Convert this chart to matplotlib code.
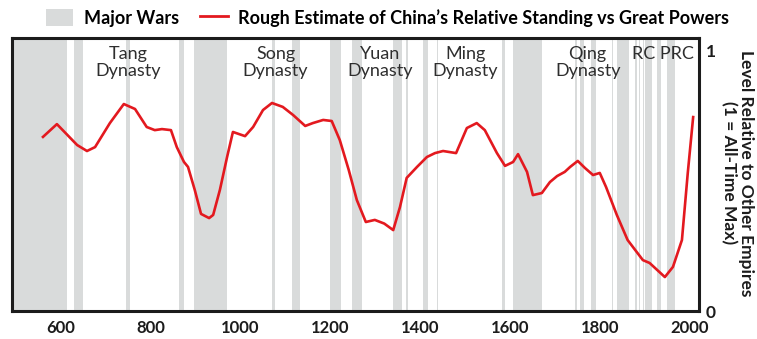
import matplotlib
matplotlib.use("Agg")
import matplotlib.pyplot as plt
from matplotlib.patches import Patch
from matplotlib.lines import Line2D

# ---- data ----
years = [560, 591, 636, 658, 676, 709, 740, 765, 791, 809, 825, 845, 858, 874, 883,
         898, 912, 930, 939, 954, 970, 983, 1010, 1028, 1050, 1070, 1094, 1117, 1144,
         1161, 1184, 1203, 1221, 1241, 1259, 1279, 1299, 1320, 1340, 1355, 1370, 1393,
         1415, 1433, 1451, 1480, 1504, 1526, 1544, 1571, 1589, 1607, 1618, 1638, 1651,
         1671, 1689, 1705, 1722, 1734, 1751, 1767, 1785, 1800, 1814, 1838, 1862, 1896,
         1911, 1945, 1963, 1983, 1996, 2008]
standing = [0.667, 0.716, 0.636, 0.613, 0.628, 0.720, 0.793, 0.774, 0.705, 0.693, 0.697,
            0.693, 0.628, 0.571, 0.552, 0.464, 0.372, 0.356, 0.368, 0.464, 0.590, 0.686,
            0.670, 0.705, 0.770, 0.797, 0.782, 0.751, 0.709, 0.720, 0.732, 0.728, 0.655,
            0.540, 0.425, 0.341, 0.349, 0.335, 0.310, 0.398, 0.510, 0.552, 0.590, 0.605,
            0.613, 0.605, 0.701, 0.720, 0.693, 0.605, 0.556, 0.571, 0.601, 0.533, 0.444,
            0.452, 0.494, 0.517, 0.533, 0.552, 0.575, 0.548, 0.521, 0.529, 0.475, 0.368,
            0.272, 0.195, 0.184, 0.130, 0.169, 0.272, 0.529, 0.743]

war_start = [491, 629, 745, 863, 896, 1070, 1115, 1199, 1249, 1340, 1369, 1407, 1438,
             1583, 1606, 1745, 1757, 1781, 1827, 1838, 1879, 1887, 1896, 1900, 1927, 1950]
war_end = [613, 649, 754, 874, 970, 1076, 1133, 1223, 1271, 1360, 1373, 1418, 1440,
           1589, 1672, 1750, 1765, 1792, 1830, 1866, 1883, 1889, 1899, 1916, 1937, 1968]

dynasty_labels = ["Tang\nDynasty", "Song\nDynasty", "Yuan\nDynasty", "Ming\nDynasty",
                  "Qing\nDynasty", "RC PRC"]
dynasty_x = [750, 1078, 1310, 1500, 1773, 1940]

xticks = [600, 800, 1000, 1200, 1400, 1600, 1800, 2000]
yticks = [0, 1]

# ---- style ----
plt.rcParams['font.family'] = ['Lato', 'DejaVu Sans']
RED = "#e3191f"
GREY = "#d9dbdb"
DARK = "#1c1c1c"

fig = plt.figure(figsize=(7.57, 3.39), dpi=100)
ax = fig.add_axes([12 / 757, 1 - 311 / 339, (699 - 12) / 757, (311 - 38) / 339])

for s, e in zip(war_start, war_end):
    ax.axvspan(s, e, color=GREY, lw=0, zorder=0)

ax.plot(years, standing, color=RED, lw=1.9, solid_joinstyle='round', zorder=3)

for lab, x in zip(dynasty_labels, dynasty_x):
    ax.text(x, 1.015, lab, ha='center', va='top', fontsize=13, color='#2e2e2e',
            fontweight='normal', linespacing=1.05, zorder=4)

ax.set_xlim(491, 2021)
ax.set_ylim(0, 1.046)
ax.set_xticks(xticks)
ax.set_xticklabels([str(t) for t in xticks], fontsize=12, fontweight='bold', color=DARK)
ax.yaxis.tick_right()
ax.set_yticks(yticks)
ax.set_yticklabels([str(t) for t in yticks], fontsize=12.5, fontweight='bold', color=DARK)
ax.tick_params(axis='both', length=0)
ax.tick_params(axis='x', pad=6.5)
ax.tick_params(axis='y', pad=5)
for sp in ax.spines.values():
    sp.set_linewidth(2.2)
    sp.set_color(DARK)

fig.text(0.974, 0.49, "Level Relative to Other Empires\n(1 = All-Time Max)",
         rotation=270, ha='center', va='center', fontsize=12.5, fontweight='bold',
         color=DARK, linespacing=1.05)

handles = [Patch(facecolor=GREY, edgecolor='none'),
           Line2D([0], [0], color=RED, lw=2)]
labels = ["Major Wars", "Rough Estimate of China\u2019s Relative Standing vs Great Powers"]
fig.legend(handles, labels, loc='upper center', bbox_to_anchor=(0.512, 1.022), ncol=2,
           frameon=False, prop={'weight': 'bold', 'size': 13}, handlelength=1.5,
           handleheight=1.0, columnspacing=1.2, handletextpad=0.6)

fig.savefig("out.png", dpi=100)
